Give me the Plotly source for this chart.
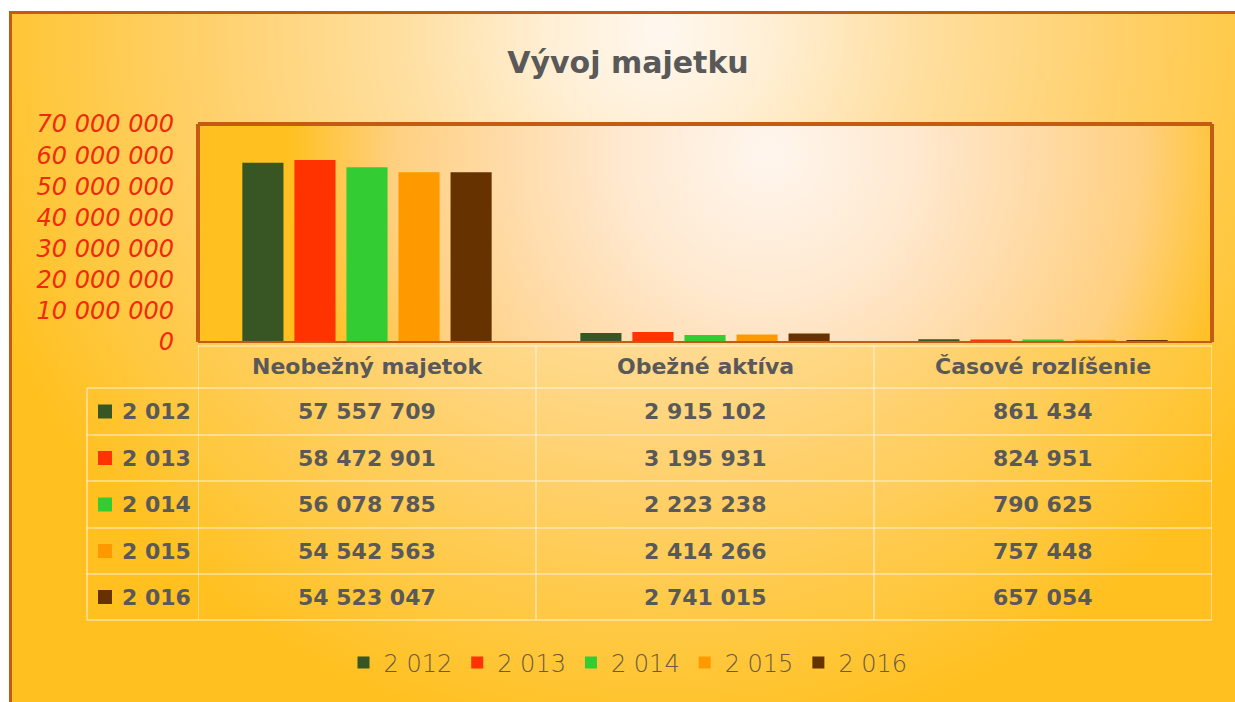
import base64
import plotly.graph_objects as go

# ---------------- data ----------------
categories = ["Neobežný majetok", "Obežné aktíva", "Časové rozlíšenie"]
years = ["2 012", "2 013", "2 014", "2 015", "2 016"]
v2012 = [57557709, 2915102, 861434]
v2013 = [58472901, 3195931, 824951]
v2014 = [56078785, 2223238, 790625]
v2015 = [54542563, 2414266, 757448]
v2016 = [54523047, 2741015, 657054]
series = [v2012, v2013, v2014, v2015, v2016]
colors = ["#375623", "#FF3300", "#33CC33", "#FF9900", "#663300"]
y_ticks = [0, 10000000, 20000000, 30000000, 40000000, 50000000, 60000000, 70000000]

# ---------------- layout geometry ----------------
W, H = 1235, 702
ML, MR, MT, MB = 198, 23, 124, 360
PW, PH = W - ML - MR, H - MT - MB


def px2x(px):
    return (px - ML) / PW


def py2y(py):
    return 1 - (py - MT) / PH


def fmt(v):
    return f"{v:,}".replace(",", " ")


TXT = "#595959"
FONT = "DejaVu Sans"

# ---------------- background images (SVG gradients) ----------------
outer_svg = f"""<svg xmlns="http://www.w3.org/2000/svg" width="{W}" height="{H}" viewBox="0 0 {W} {H}" preserveAspectRatio="none">
<defs>
<radialGradient id="g" gradientUnits="userSpaceOnUse" cx="0" cy="0" r="1" gradientTransform="translate(660 30) scale(720 720)">
<stop offset="0" stop-color="#FFF8F0"/>
<stop offset="0.15" stop-color="#FFEFD5"/>
<stop offset="0.36" stop-color="#FFDFA0"/>
<stop offset="0.6" stop-color="#FFD272"/>
<stop offset="0.85" stop-color="#FFC840"/>
<stop offset="1" stop-color="#FFC020"/>
</radialGradient>
</defs>
<rect width="{W}" height="{H}" fill="#FFFFFF"/>
<rect x="9" y="11" width="{W-9}" height="{H-11}" fill="url(#g)"/>
<path d="M10.5,{H} V12.5 H{W}" fill="none" stroke="#C55A11" stroke-width="3"/>
</svg>"""

plot_svg = f"""<svg xmlns="http://www.w3.org/2000/svg" width="{PW}" height="{PH}" viewBox="0 0 {PW} {PH}" preserveAspectRatio="none">
<defs>
<radialGradient id="p" gradientUnits="userSpaceOnUse" cx="0" cy="0" r="1" gradientTransform="translate(570 30) scale(480 480)">
<stop offset="0" stop-color="#FFF6EE"/>
<stop offset="0.3" stop-color="#FFE9D0"/>
<stop offset="0.55" stop-color="#FFDBA8"/>
<stop offset="0.78" stop-color="#FFD080"/>
<stop offset="1" stop-color="#FFC020"/>
</radialGradient>
</defs>
<rect width="{PW}" height="{PH}" fill="url(#p)"/>
</svg>"""


def uri(svg):
    return "data:image/svg+xml;base64," + base64.b64encode(svg.encode("utf-8")).decode("ascii")


images = [
    dict(source=uri(outer_svg), xref="paper", yref="paper", x=px2x(0), y=py2y(0),
         sizex=W / PW, sizey=H / PH, xanchor="left", yanchor="top",
         sizing="stretch", layer="below"),
    dict(source=uri(plot_svg), xref="paper", yref="paper", x=0, y=1,
         sizex=1, sizey=1, xanchor="left", yanchor="top",
         sizing="stretch", layer="below"),
]

# ---------------- traces ----------------
fig = go.Figure()
for name, vals, col in zip(years, series, colors):
    fig.add_trace(go.Bar(x=categories, y=vals, name=name, marker_color=col,
                         marker_line_width=0))

# ---------------- shapes ----------------
shapes = []
LINE = dict(color="rgba(255,242,220,0.65)", width=1.5)
BORDER = "#C55A11"
shapes.append(dict(type="line", xref="paper", yref="paper", x0=0, x1=0, y0=0, y1=1,
                   line=dict(color=BORDER, width=4)))
shapes.append(dict(type="line", xref="paper", yref="paper", x0=0, x1=1, y0=1, y1=1,
                   line=dict(color=BORDER, width=4)))
shapes.append(dict(type="line", xref="paper", yref="paper", x0=1, x1=1, y0=0, y1=1,
                   line=dict(color=BORDER, width=4)))
shapes.append(dict(type="line", xref="paper", yref="paper", x0=0, x1=1, y0=0, y1=0,
                   line=dict(color=BORDER, width=2)))

# table grid
row_lines_px = [388, 435, 481, 528, 574, 620]
header_top_px = 346
left_px = 87
shapes.append(dict(type="line", xref="paper", yref="paper", x0=0, x1=1,
                   y0=py2y(header_top_px), y1=py2y(header_top_px), line=LINE))
for ry in row_lines_px:
    shapes.append(dict(type="line", xref="paper", yref="paper", x0=px2x(left_px), x1=1,
                       y0=py2y(ry), y1=py2y(ry), line=LINE))
shapes.append(dict(type="line", xref="paper", yref="paper", x0=px2x(left_px), x1=px2x(left_px),
                   y0=py2y(row_lines_px[0]), y1=py2y(row_lines_px[-1]), line=LINE))
for k in range(len(categories) + 1):
    xv = k - 0.5
    shapes.append(dict(type="line", xref="x", yref="paper", x0=xv, x1=xv,
                       y0=py2y(header_top_px), y1=py2y(row_lines_px[-1]), line=LINE))

# ---------------- annotations ----------------
ann = []
header_c = (header_top_px + row_lines_px[0]) / 2 - 1
for c in categories:
    ann.append(dict(x=c, xref="x", y=py2y(header_c), yref="paper", text=f"<b>{c}</b>",
                    showarrow=False, xanchor="center", yanchor="middle",
                    font=dict(family=FONT, size=22, color=TXT)))
for r, (name, vals, col) in enumerate(zip(years, series, colors)):
    yc = (row_lines_px[r] + row_lines_px[r + 1]) / 2
    for c, v in zip(categories, vals):
        ann.append(dict(x=c, xref="x", y=py2y(yc), yref="paper", text=f"<b>{fmt(v)}</b>",
                        showarrow=False, xanchor="center", yanchor="middle",
                        font=dict(family=FONT, size=22, color=TXT)))
    ann.append(dict(x=px2x(120), xref="paper", y=py2y(yc), yref="paper", text=f"<b>{name}</b>",
                    showarrow=False, xanchor="left", yanchor="middle",
                    font=dict(family=FONT, size=22, color=TXT)))
    shapes.append(dict(type="rect", xref="paper", yref="paper",
                       xsizemode="pixel", ysizemode="pixel",
                       xanchor=px2x(105), yanchor=py2y(yc),
                       x0=-7, x1=7, y0=-7, y1=7,
                       fillcolor=col, line=dict(width=0)))

fig.update_layout(
    width=W, height=H,
    margin=dict(l=ML, r=MR, t=MT, b=MB, pad=0),
    paper_bgcolor="#FFC020",
    plot_bgcolor="rgba(0,0,0,0)",
    separators=", ",
    title=dict(text="<b>Vývoj majetku</b>", x=628 / W, xanchor="center",
               y=1 - 62 / H, yanchor="middle", yref="container",
               font=dict(family=FONT, size=30, color=TXT)),
    barmode="group",
    bargap=0.23,
    bargroupgap=0.21,
    xaxis=dict(showticklabels=False, showgrid=False, zeroline=False, showline=False,
               range=[-0.5, 2.5], fixedrange=True),
    yaxis=dict(range=[0, 70000000], tickvals=y_ticks, tickformat=",d",
               showgrid=False, zeroline=False, showline=False, ticks="",
               ticklabelstandoff=23,
               tickfont=dict(family=FONT, size=24, color="#F02A08", style="italic")),
    legend=dict(orientation="h", x=px2x(628), xanchor="center", y=py2y(663), yanchor="middle",
                font=dict(family=FONT, size=24, color="#6A5A40", weight=300),
                bgcolor="rgba(0,0,0,0)", traceorder="normal", itemclick=False,
                itemwidth=30),
    images=images,
    shapes=shapes,
    annotations=ann,
    showlegend=True,
)

fig.write_html("out.html", config={"displayModeBar": False},
               post_script="document.body.style.margin='0';document.body.style.overflow='hidden';")
